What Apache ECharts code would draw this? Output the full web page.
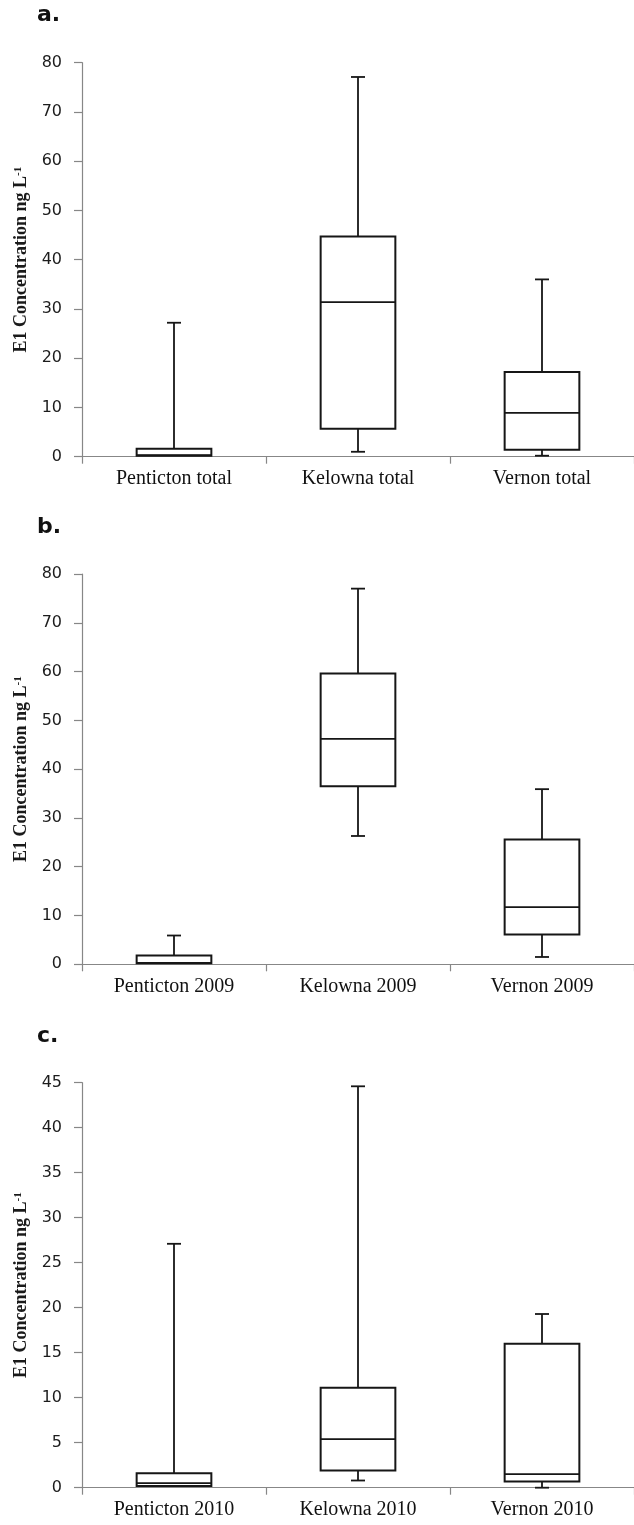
<!DOCTYPE html>
<html>
<head>
<meta charset="utf-8">
<script src="https://cdn.jsdelivr.net/npm/echarts@6/dist/echarts.min.js"></script>
<style>
html,body{margin:0;padding:0;background:#fff;}
#chart{width:634px;height:1525px;}
</style>
</head>
<body>
<div id="chart"></div>
<script>
// ---- data ----
const panelLabels = ['a.', 'b.', 'c.'];
const catsA = ['Penticton total', 'Kelowna total', 'Vernon total'];
const catsB = ['Penticton 2009', 'Kelowna 2009', 'Vernon 2009'];
const catsC = ['Penticton 2010', 'Kelowna 2010', 'Vernon 2010'];
// each row: [min, Q1, median, Q3, max]  (ng L-1)
const statsA = [[0.2, 0.2, 0.3, 1.6, 27.2], [1.0, 5.7, 31.4, 44.7, 77.1], [0.2, 1.4, 8.9, 17.2, 36.0]];
const statsB = [[0.2, 0.2, 0.3, 1.8, 5.9], [26.3, 36.5, 46.2, 59.6, 77.0], [1.5, 6.1, 11.7, 25.6, 35.9]];
const statsC = [[0.2, 0.2, 0.5, 1.6, 27.1], [0.8, 1.9, 5.4, 11.1, 44.6], [0.0, 0.7, 1.5, 16.0, 19.3]];
const yMaxA = 80, yStepA = 10;
const yMaxB = 80, yStepB = 10;
const yMaxC = 45, yStepC = 5;
const yTitle = 'E1 Concentration ng L';
const yTitleSup = '-1';

// ---- layout ----
const grids = [
  {left: 82, top: 62.7, width: 554, height: 394},
  {left: 82, top: 574, width: 554, height: 390.3},
  {left: 82, top: 1082.7, width: 554, height: 405}
];
const labelY = [18.5, 530, 1039];
const ink = '#161616';
const axisGray = '#878787';

function renderBox(params, api) {
  const idx = api.value(0);
  const vMin = api.value(1), vQ1 = api.value(2), vMed = api.value(3), vQ3 = api.value(4), vMax = api.value(5);
  const band = api.size([1, 0])[0];
  const half = band * 0.203;
  const capHalf = 7;
  const cx = api.coord([idx, vMed])[0];
  const y = v => api.coord([idx, v])[1];
  const yMin = y(vMin), yQ1 = y(vQ1), yMed = y(vMed), yQ3 = y(vQ3), yMx = y(vMax);
  const st = {stroke: ink, lineWidth: 1.8, fill: null};
  const kids = [];
  if (vMax > vQ3) {
    kids.push({type: 'line', shape: {x1: cx, y1: yQ3, x2: cx, y2: yMx}, style: st});
    kids.push({type: 'line', shape: {x1: cx - capHalf, y1: yMx, x2: cx + capHalf, y2: yMx}, style: st});
  }
  if (vMin < vQ1) {
    kids.push({type: 'line', shape: {x1: cx, y1: yQ1, x2: cx, y2: yMin}, style: st});
    kids.push({type: 'line', shape: {x1: cx - capHalf, y1: yMin, x2: cx + capHalf, y2: yMin}, style: st});
  }
  kids.push({type: 'rect', shape: {x: cx - half, y: yQ3, width: 2 * half, height: yQ1 - yQ3},
             style: {fill: '#fff', stroke: ink, lineWidth: 2}});
  kids.push({type: 'line', shape: {x1: cx - half, y1: yMed, x2: cx + half, y2: yMed}, style: st});
  return {type: 'group', children: kids};
}

function toRows(stats) {
  return stats.map((s, i) => [i].concat(s));
}

const cats = [catsA, catsB, catsC];
const stats = [statsA, statsB, statsC];
const yMaxs = [yMaxA, yMaxB, yMaxC];
const ySteps = [yStepA, yStepB, yStepC];

const xAxes = cats.map((c, i) => ({
  type: 'category', gridIndex: i, data: c,
  axisLine: {lineStyle: {color: axisGray, width: 1.2}},
  axisTick: {show: true, length: 7, lineStyle: {color: axisGray, width: 1.2}},
  axisLabel: {margin: 12, color: '#111', fontFamily: 'Liberation Serif', fontSize: 20, interval: 0}
}));
const yAxes = yMaxs.map((m, i) => ({
  type: 'value', gridIndex: i, min: 0, max: m, interval: ySteps[i],
  splitLine: {show: false},
  axisLine: {show: true, lineStyle: {color: axisGray, width: 1.2}},
  axisTick: {show: true, length: 8, lineStyle: {color: axisGray, width: 1.2}},
  axisLabel: {margin: 20, color: '#1c1c1c', fontFamily: 'DejaVu Sans', fontSize: 16},
  name: '{t|' + yTitle + '}{s|' + yTitleSup + '}',
  nameLocation: 'middle', nameRotate: 90, nameGap: 49,
  nameTextStyle: {
    rich: {
      t: {fontFamily: 'Liberation Serif', fontWeight: 'bold', fontSize: 18, color: '#1a1a1a'},
      s: {fontFamily: 'Liberation Serif', fontWeight: 'bold', fontSize: 11, color: '#1a1a1a', verticalAlign: 'top', padding: [0, 0, 8, 0]}
    }
  }
}));
const series = stats.map((s, i) => ({
  type: 'custom', xAxisIndex: i, yAxisIndex: i,
  renderItem: renderBox,
  encode: {x: 0, y: [1, 2, 3, 4, 5]},
  data: toRows(s),
  clip: false
}));

const chart = echarts.init(document.getElementById('chart'), null, {renderer: 'canvas'});
chart.setOption({
  backgroundColor: '#fff',
  animation: false,
  grid: grids,
  xAxis: xAxes,
  yAxis: yAxes,
  series: series,
  graphic: panelLabels.map((t, i) => ({
    type: 'text', left: 37, top: labelY[i] - 14,
    style: {text: t, fontFamily: 'DejaVu Sans', fontWeight: 'bold', fontSize: 22, fill: '#111'}
  }))
});
</script>
</body>
</html>
